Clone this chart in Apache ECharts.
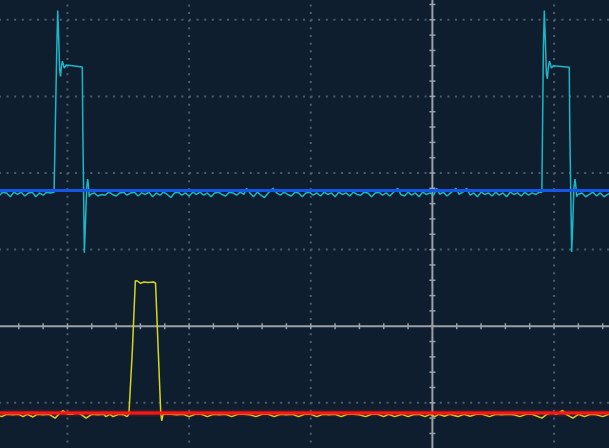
<!DOCTYPE html>
<html><head><meta charset="utf-8">
<script src="https://cdn.jsdelivr.net/npm/echarts@6/dist/echarts.min.js"></script>
<style>html,body{margin:0;padding:0;background:#0e1e2e;overflow:hidden;}#c{width:609px;height:448px;}</style>
</head><body><div id="c"></div>
<script>
// Units: horizontal and vertical divisions of the oscilloscope graticule
const xView = [-3.5545, 1.4517];      // visible time window (div)
const yView = [-1.590, 4.2585];       // visible amplitude window (div)
const xGridDivs = [-4, -3, -2, -1, 0, 1, 2];
const yGridDivs = [-2, -1, 0, 1, 2, 3, 4, 5];
const blueLevel = 1.77;   // CH2 reference marker
const redLevel = -1.133;  // CH1 reference marker

const cyanTrace = [
[-3.60,1.74],[-3.56,1.71],[-3.53,1.75],[-3.50,1.74],[-3.47,1.69],[-3.44,1.75],[-3.41,1.72],[-3.38,1.75],[-3.35,1.70],[-3.32,1.74],[-3.29,1.75],[-3.26,1.69],[-3.23,1.74],[-3.20,1.71],[-3.17,1.75],[-3.14,1.74],[-3.11,1.75],
[-3.100,1.75],[-3.088,3.6],[-3.080,4.12],[-3.072,3.75],[-3.064,3.35],[-3.057,3.26],[-3.050,3.38],[-3.042,3.46],[-3.034,3.42],[-3.026,3.37],[-3.018,3.39],[-3.010,3.41],[-3.003,3.42],[-2.998,3.385],[-2.878,3.385],[-2.874,2.6],[-2.861,0.96],[-2.852,1.35],[-2.842,1.80],[-2.834,1.92],[-2.828,1.85],[-2.821,1.69],[-2.812,1.72],[-2.804,1.70],
[-2.78,1.74],[-2.75,1.70],[-2.72,1.72],[-2.69,1.71],[-2.66,1.75],[-2.63,1.72],[-2.60,1.70],[-2.57,1.74],[-2.54,1.75],[-2.51,1.71],[-2.48,1.74],[-2.45,1.75],[-2.42,1.70],[-2.39,1.74],[-2.36,1.72],[-2.33,1.75],[-2.30,1.69],[-2.27,1.74],[-2.24,1.71],[-2.21,1.75],[-2.18,1.72],[-2.15,1.68],[-2.12,1.74],[-2.09,1.75],[-2.06,1.71],[-2.03,1.74],[-2.00,1.70],[-1.97,1.75],[-1.94,1.72],[-1.91,1.75],[-1.88,1.71],[-1.85,1.74],[-1.82,1.69],[-1.79,1.74],[-1.76,1.75],[-1.73,1.72],[-1.70,1.70],[-1.67,1.75],[-1.64,1.74],[-1.61,1.71],[-1.58,1.75],[-1.55,1.72],[-1.527,1.80],[-1.50,1.74],[-1.47,1.69],[-1.44,1.75],[-1.41,1.71],[-1.38,1.68],[-1.35,1.74],[-1.31,1.80],[-1.28,1.74],[-1.25,1.71],[-1.22,1.75],[-1.19,1.72],[-1.16,1.70],[-1.13,1.75],[-1.10,1.74],[-1.07,1.69],[-1.04,1.74],[-1.01,1.75],[-0.98,1.71],[-0.95,1.74],[-0.92,1.70],[-0.89,1.75],[-0.86,1.72],[-0.83,1.74],[-0.80,1.69],[-0.77,1.75],[-0.74,1.72],[-0.71,1.74],[-0.68,1.70],[-0.65,1.75],[-0.62,1.72],[-0.59,1.71],[-0.56,1.75],[-0.53,1.74],[-0.50,1.69],[-0.47,1.74],[-0.44,1.75],[-0.41,1.71],[-0.38,1.74],[-0.35,1.70],[-0.32,1.75],[-0.285,1.80],[-0.26,1.72],[-0.23,1.70],[-0.20,1.75],[-0.17,1.71],[-0.14,1.74],[-0.11,1.69],[-0.08,1.75],[-0.05,1.72],[-0.02,1.74],[0.01,1.71],[0.035,1.80],[0.06,1.72],[0.09,1.75],[0.12,1.70],[0.15,1.74],[0.194,1.80],[0.22,1.72],[0.25,1.75],[0.282,1.80],[0.31,1.71],[0.34,1.74],[0.37,1.69],[0.40,1.75],[0.43,1.72],[0.46,1.74],[0.49,1.70],[0.52,1.75],[0.55,1.71],[0.58,1.74],[0.61,1.69],[0.64,1.75],[0.67,1.72],[0.70,1.74],[0.73,1.70],[0.76,1.75],[0.79,1.71],[0.82,1.74],[0.85,1.72],[0.88,1.75],
[0.900,1.75],[0.912,3.6],[0.920,4.12],[0.928,3.75],[0.937,3.30],[0.945,3.23],[0.953,3.38],[0.962,3.46],[0.970,3.42],[0.978,3.37],[0.986,3.39],[0.994,3.40],[1.000,3.38],[1.125,3.38],[1.129,2.6],[1.145,0.97],[1.154,1.35],[1.163,1.80],[1.172,1.92],[1.178,1.85],[1.186,1.69],[1.194,1.72],[1.202,1.70],
[1.23,1.74],[1.26,1.69],[1.29,1.72],[1.32,1.75],[1.35,1.70],[1.38,1.74],[1.41,1.69],[1.44,1.72],[1.47,1.75],[1.50,1.71]
];

const yellowTrace = [
[-3.60,-1.15],[-3.54,-1.18],[-3.50,-1.15],[-3.45,-1.155],[-3.40,-1.15],[-3.365,-1.18],[-3.33,-1.15],[-3.283,-1.185],[-3.25,-1.15],[-3.20,-1.155],[-3.15,-1.15],[-3.102,-1.20],[-3.07,-1.15],[-3.037,-1.10],[-3.00,-1.15],[-2.96,-1.15],[-2.921,-1.13],[-2.89,-1.15],[-2.847,-1.20],[-2.80,-1.15],[-2.75,-1.155],[-2.70,-1.15],[-2.685,-1.18],[-2.65,-1.15],[-2.625,-1.18],[-2.58,-1.15],[-2.54,-1.155],[-2.51,-1.18],[-2.495,-1.15],
[-2.490,-1.13],[-2.466,-0.30],[-2.442,0.594],[-2.425,0.59],[-2.398,0.560],[-2.371,0.577],[-2.338,0.57],[-2.294,0.577],[-2.276,0.564],[-2.266,0.538],[-2.233,-1.133],[-2.225,-1.234],[-2.214,-1.15],[-2.198,-1.16],
[-2.15,-1.15],[-2.10,-1.155],[-2.05,-1.15],[-2.00,-1.18],[-1.95,-1.15],[-1.90,-1.15],[-1.85,-1.18],[-1.80,-1.15],[-1.75,-1.155],[-1.70,-1.15],[-1.65,-1.18],[-1.60,-1.15],[-1.55,-1.15],[-1.50,-1.155],[-1.45,-1.18],[-1.40,-1.15],[-1.35,-1.15],[-1.30,-1.18],[-1.25,-1.15],[-1.20,-1.155],[-1.15,-1.15],[-1.10,-1.18],[-1.05,-1.15],[-1.00,-1.15],[-0.95,-1.18],[-0.90,-1.15],[-0.85,-1.155],[-0.80,-1.15],[-0.75,-1.18],[-0.70,-1.15],[-0.65,-1.15],[-0.60,-1.155],[-0.55,-1.18],[-0.50,-1.15],[-0.45,-1.15],[-0.40,-1.18],[-0.36,-1.15],[-0.31,-1.18],[-0.25,-1.15],[-0.20,-1.18],[-0.16,-1.155],[-0.11,-1.15],[-0.06,-1.18],[-0.02,-1.15],[0.02,-1.18],[0.05,-1.15],[0.10,-1.175],[0.14,-1.15],[0.21,-1.18],[0.26,-1.15],[0.31,-1.175],[0.36,-1.15],[0.41,-1.15],[0.47,-1.18],[0.52,-1.15],[0.57,-1.155],[0.58,-1.18],[0.62,-1.15],[0.67,-1.155],[0.72,-1.18],[0.77,-1.15],[0.82,-1.15],[0.90,-1.20],[0.94,-1.15],[0.98,-1.13],[1.02,-1.15],[1.07,-1.10],[1.10,-1.15],[1.155,-1.20],[1.20,-1.15],[1.25,-1.18],[1.30,-1.15],[1.35,-1.155],[1.40,-1.18],[1.45,-1.15],[1.50,-1.155]
];

const chart = echarts.init(document.getElementById('c'), null, {renderer: 'canvas'});

function graticule(params, api) {
  const children = [];
  const dot = '#4e5d6b';
  const stroke = '#9aa1a8';
  const xMin = xGridDivs[0], xMax = xGridDivs[xGridDivs.length - 1];
  const yMin = yGridDivs[0], yMax = yGridDivs[yGridDivs.length - 1];
  xGridDivs.forEach(function (v) {
    if (v === 0) return;
    const a = api.coord([v, yMax]), b = api.coord([v, yMin]);
    children.push({type: 'line', shape: {x1: a[0], y1: a[1], x2: b[0], y2: b[1]},
      style: {stroke: dot, lineWidth: 2, lineDash: [2, 5.65]}});
  });
  yGridDivs.forEach(function (v) {
    if (v === 0) return;
    const a = api.coord([xMin, v]), b = api.coord([xMax, v]);
    children.push({type: 'line', shape: {x1: a[0], y1: a[1], x2: b[0], y2: b[1]},
      style: {stroke: dot, lineWidth: 2, lineDash: [2, 5.6]}});
  });
  const a = api.coord([0, yMin]), b = api.coord([0, yMax]);
  const c = api.coord([xMin, 0]), d = api.coord([xMax, 0]);
  children.push({type: 'line', shape: {x1: a[0], y1: a[1], x2: b[0], y2: b[1]}, style: {stroke: stroke, lineWidth: 2}});
  children.push({type: 'line', shape: {x1: c[0], y1: c[1], x2: d[0], y2: d[1]}, style: {stroke: stroke, lineWidth: 2}});
  for (let i = xMin * 5; i <= xMax * 5; i++) {
    const p = api.coord([i / 5, 0]);
    children.push({type: 'line', shape: {x1: p[0], y1: p[1] - 3, x2: p[0], y2: p[1] + 3}, style: {stroke: stroke, lineWidth: 1.5}});
  }
  for (let i = yMin * 5; i <= yMax * 5; i++) {
    const p = api.coord([0, i / 5]);
    children.push({type: 'line', shape: {x1: p[0] - 3, y1: p[1], x2: p[0] + 3, y2: p[1]}, style: {stroke: stroke, lineWidth: 1.5}});
  }
  return {type: 'group', children: children};
}

chart.setOption({
  backgroundColor: '#0e1e2e',
  animation: false,
  grid: {left: 0, right: 0, top: 0, bottom: 0, containLabel: false},
  xAxis: {type: 'value', min: xView[0], max: xView[1],
    axisLine: {show: false}, axisTick: {show: false}, axisLabel: {show: false}, splitLine: {show: false}},
  yAxis: {type: 'value', min: yView[0], max: yView[1],
    axisLine: {show: false}, axisTick: {show: false}, axisLabel: {show: false}, splitLine: {show: false}},
  series: [
    {type: 'custom', renderItem: graticule, data: [[0, 0]], z: 1, silent: true, clip: true},
    {type: 'line', data: cyanTrace, symbol: 'none', z: 3,
      lineStyle: {color: '#1bb7c9', width: 1.5}},
    {type: 'line', data: [[xView[0], blueLevel], [xView[1], blueLevel]], symbol: 'none', z: 4,
      lineStyle: {color: '#1456e6', width: 3}},
    {type: 'line', data: yellowTrace, symbol: 'none', z: 3,
      lineStyle: {color: '#d6d622', width: 1.5}},
    {type: 'line', data: [[xView[0], redLevel], [xView[1], redLevel]], symbol: 'none', z: 4,
      lineStyle: {color: '#ff1414', width: 3, shadowColor: 'rgba(255,40,40,0.6)', shadowBlur: 3}}
  ]
});
</script>
</body></html>
